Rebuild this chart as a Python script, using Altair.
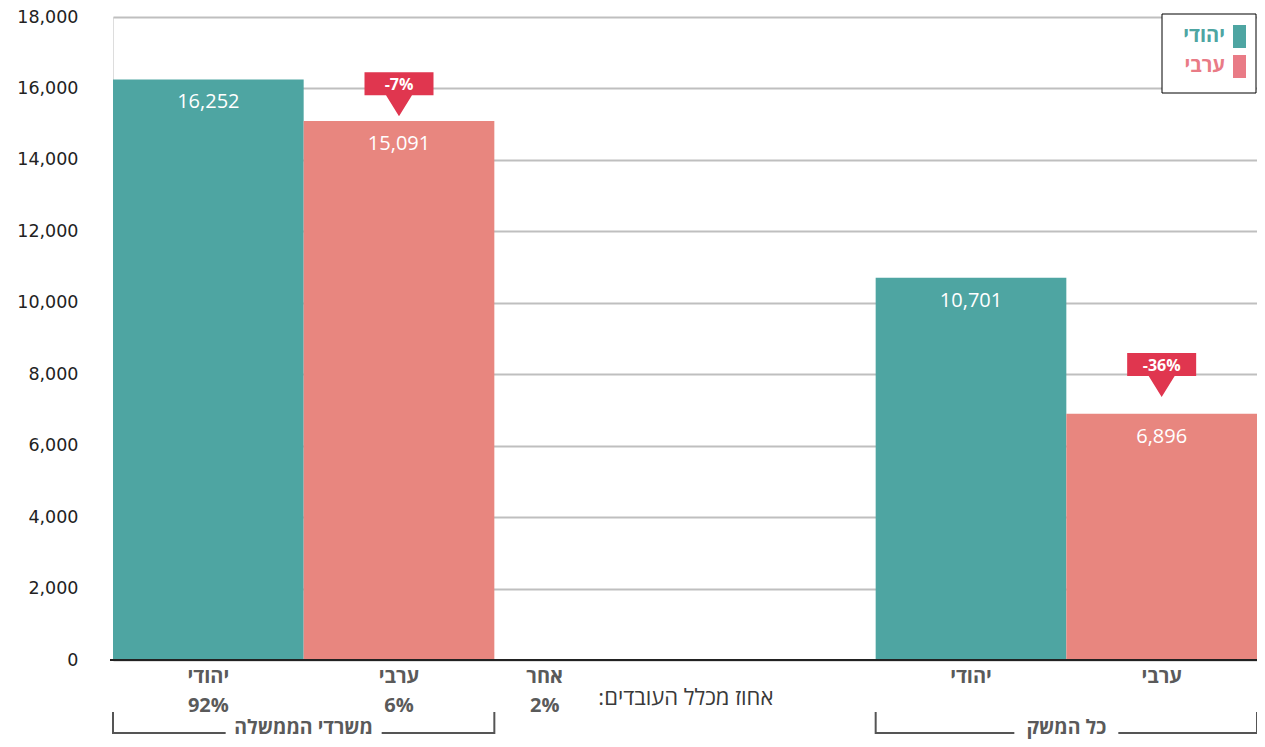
import altair as alt
import pandas as pd

# ---------------- data ----------------
groups = ["משרדי הממשלה", "כל המשק"]
ethnic = ["יהודי", "ערבי"]
gov_salary = [16252, 15091]
econ_salary = [10701, 6896]
gov_share_names = ["יהודי", "ערבי", "אחר"]
gov_share = ["92%", "6%", "2%"]
share_title = "אחוז מכלל העובדים:\u200f"
pay_gap = ["-7%", "-36%"]
pay_gap_level = [16130, 8270]
y_ticks = list(range(0, 18001, 2000))

# ---------------- style ----------------
TEAL = "#4EA5A2"
SALMON = "#E8867F"
LEG_PINK = "#E97B86"
RED = "#E0364F"
GRAY = "#5a5a5a"
FONT = "Open Sans, DejaVu Sans, sans-serif"
W, H = 1144, 643
NSLOT = 6
UNIT = W / NSLOT

xs = alt.Scale(domain=[0, NSLOT], nice=False, zero=False, padding=0)
ys = alt.Scale(domain=[0, 18000], nice=False, padding=0)

# bars: government slots 0,1 ; economy slots 4,5
bars = pd.DataFrame({
    "slot": [0, 1, 4, 5],
    "group": [groups[0], groups[0], groups[1], groups[1]],
    "eth": ethnic + ethnic,
    "value": gov_salary + econ_salary,
})
bars["end"] = bars["slot"] + 1
bars["mid"] = bars["slot"] + 0.5

bar_layer = alt.Chart(bars).mark_bar().encode(
    x=alt.X("slot:Q", scale=xs, axis=None),
    x2="end:Q",
    y=alt.Y("value:Q", scale=ys, axis=alt.Axis(
        values=y_ticks, format=",d", grid=True, gridColor="#bfbfbf", gridWidth=2,
        domain=False, ticks=False, labelPadding=35, labelFont="DejaVu Sans",
        labelFontSize=17.5, labelColor="#222", title=None)),
    y2=alt.datum(0),
    color=alt.Color("eth:N", scale=alt.Scale(domain=ethnic, range=[TEAL, SALMON]), legend=None),
)

value_labels = alt.Chart(bars).mark_text(
    dy=23, color="white", font=FONT, fontSize=20, baseline="middle"
).encode(
    x=alt.X("mid:Q", scale=xs), y=alt.Y("value:Q", scale=ys),
    text=alt.Text("value:Q", format=",d"),
)

# callouts on Arab bars
callouts = pd.DataFrame({
    "mid": [1.5, 5.5],
    "label": pay_gap,
    "level": pay_gap_level,
})
CALLOUT_PATH = "M-3,-1L3,-1L3,1L1.13,1L0,2.83L-1.13,1L-3,1Z"
callout_shape = alt.Chart(callouts).mark_point(
    shape=CALLOUT_PATH, size=529, filled=True, fill=RED, opacity=1, strokeWidth=0
).encode(x=alt.X("mid:Q", scale=xs), y=alt.Y("level:Q", scale=ys))
callout_text = alt.Chart(callouts).mark_text(
    color="white", font=FONT, fontSize=16, fontWeight="bold", baseline="middle", dy=1
).encode(x=alt.X("mid:Q", scale=xs), y=alt.Y("level:Q", scale=ys), text="label:N")

# baseline
base_df = pd.DataFrame({"v": [0]})
baseline = alt.Chart(base_df).mark_rule(color="#222", strokeWidth=2).encode(
    y=alt.Y("v:Q", scale=ys), x=alt.value(-3), x2=alt.value(W)
)

# category labels under the axis
gov_lab = pd.DataFrame({"mid": [0.5, 1.5], "name": gov_share_names[:2], "share": gov_share[:2]})
other_lab = pd.DataFrame({"mid": [2.5], "name": gov_share_names[2:], "share": gov_share[2:]})
econ_lab = pd.DataFrame({"mid": [4.5, 5.5], "name": ethnic})
title_lab = pd.DataFrame({"mid": [3.5], "name": [share_title]})

lab_style = dict(font=FONT, fontSize=20, fontWeight="bold", color=GRAY, baseline="middle")
row1_gov = alt.Chart(gov_lab).mark_text(**lab_style).encode(
    x=alt.X("mid:Q", scale=xs), y=alt.value(660), text="name:N")
row2_gov = alt.Chart(gov_lab).mark_text(**lab_style).encode(
    x=alt.X("mid:Q", scale=xs), y=alt.value(689), text="share:N")
row1_oth = alt.Chart(other_lab).mark_text(dx=-45, **lab_style).encode(
    x=alt.X("mid:Q", scale=xs), y=alt.value(660), text="name:N")
row2_oth = alt.Chart(other_lab).mark_text(dx=-45, **lab_style).encode(
    x=alt.X("mid:Q", scale=xs), y=alt.value(689), text="share:N")
row1_econ = alt.Chart(econ_lab).mark_text(**lab_style).encode(
    x=alt.X("mid:Q", scale=xs), y=alt.value(660), text="name:N")
title_text = alt.Chart(title_lab).mark_text(
    font=FONT, fontSize=22, color="#3a3a3a", baseline="middle",
    align="right", dx=-7
).encode(x=alt.X("mid:Q", scale=xs), y=alt.value(681), text="name:N")

# group brackets
half_gap_px = [78, 52]
br = pd.DataFrame({"group": groups, "start": [0, 4], "end": [2, 6]})
br["center"] = (br["start"] + br["end"]) / 2
br["gl"] = br["center"] - pd.Series(half_gap_px) / UNIT
br["gr"] = br["center"] + pd.Series(half_gap_px) / UNIT
rule_style = dict(color="#555", strokeWidth=2)
br_left = alt.Chart(br).mark_rule(**rule_style).encode(
    x=alt.X("start:Q", scale=xs), x2="gl:Q", y=alt.value(716))
br_right = alt.Chart(br).mark_rule(**rule_style).encode(
    x=alt.X("gr:Q", scale=xs), x2="end:Q", y=alt.value(716))
br_vl = alt.Chart(br).mark_rule(**rule_style).encode(
    x=alt.X("start:Q", scale=xs), y=alt.value(695), y2=alt.value(717))
br_vr = alt.Chart(br).mark_rule(**rule_style).encode(
    x=alt.X("end:Q", scale=xs), y=alt.value(695), y2=alt.value(717))
br_text = alt.Chart(br).mark_text(
    font=FONT, fontSize=19.5, fontWeight="bold", color=GRAY, baseline="middle"
).encode(x=alt.X("center:Q", scale=xs), y=alt.value(711), text="group:N")

# legend (manual, swatch to the right of the label)
one = pd.DataFrame({"k": [0]})
leg_box = alt.Chart(one).mark_rect(fill="white", stroke="black", strokeWidth=1).encode(
    x=alt.value(W - 95), x2=alt.value(W - 1), y=alt.value(-3), y2=alt.value(76))
leg_layers = [leg_box]
for name, col, y0 in [(ethnic[0], TEAL, 8), (ethnic[1], LEG_PINK, 38)]:
    d = pd.DataFrame({"name": [name]})
    leg_layers.append(alt.Chart(d).mark_rect(fill=col).encode(
        x=alt.value(W - 24), x2=alt.value(W - 11), y=alt.value(y0), y2=alt.value(y0 + 23)))
    leg_layers.append(alt.Chart(d).mark_text(
        font=FONT, fontSize=20, fontWeight="bold", color=col, align="right", baseline="middle"
    ).encode(x=alt.value(W - 32), y=alt.value(y0 + 11), text="name:N"))

chart = alt.layer(
    bar_layer, baseline, value_labels, callout_shape, callout_text,
    row1_gov, row2_gov, row1_oth, row2_oth, row1_econ, title_text,
    br_left, br_right, br_vl, br_vr, br_text, *leg_layers
).properties(
    width=W, height=H,
    autosize=alt.AutoSizeParams(type="none"),
    padding={"left": 105, "top": 9, "right": 0, "bottom": 79},
).configure_view(stroke=None).configure(background="white")

chart.save("out.html", embed_options={"renderer": "svg", "actions": False})
